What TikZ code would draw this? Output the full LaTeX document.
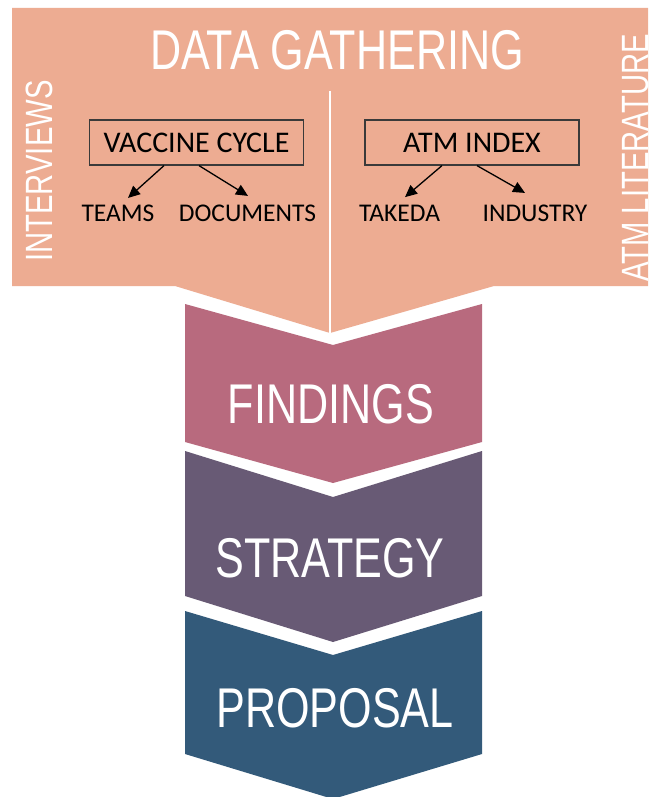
\documentclass[tikz,border=0pt]{standalone}
\usepackage{fontspec}
\setmainfont{Carlito}
\newfontfamily\narrowfont[FakeStretch=0.77]{Liberation Sans}
\usetikzlibrary{arrows.meta,calc}
\definecolor{peach}{HTML}{EDAC92}
\definecolor{rose}{HTML}{B86A7E}
\definecolor{plum}{HTML}{685A75}
\definecolor{navy}{HTML}{335A7A}
\definecolor{boxline}{HTML}{3A3A3A}
\begin{document}
\begin{tikzpicture}[x=1pt,y=-1pt,
  bigtext/.style={text=white,font=\narrowfont\fontsize{56}{60}\selectfont,inner sep=0pt,anchor=base},
  sidetext/.style={text=white,font=\narrowfont\fontsize{38}{42}\selectfont,inner sep=0pt,rotate=90},
  labelbox/.style={draw=boxline,line width=1.2pt,minimum width=214pt,minimum height=45pt,inner sep=0pt,font=\fontsize{30}{34}\selectfont},
  leaf/.style={inner sep=0pt,font=\fontsize{25.5}{30}\selectfont},
  arr/.style={line width=1.3pt,-{Triangle[length=12pt,width=11pt]}}]
\useasboundingbox (0,0) rectangle (648,797);
\fill[white] (0,0) rectangle (648,797);
\clip (0,0) rectangle (648,797);
% top block
\fill[peach] (12,8) -- (660,8) -- (660,286) -- (494,286) -- (330,333) -- (175,286) -- (12,286) -- cycle;
\draw[white,line width=2pt] (330,91) -- (330,333);
% chevrons
\fill[rose] (185,304) -- (333,345) -- (482,304) -- (482,442) -- (333,483) -- (185,442) -- cycle;
\fill[plum] (185,451) -- (333,497) -- (482,451) -- (482,596) -- (333,642) -- (185,596) -- cycle;
\fill[navy] (185,611) -- (333,655) -- (482,611) -- (482,754) -- (333,799) -- (185,754) -- cycle;
% texts
\node[bigtext] (dg) at (337,70) {DATA GATHERING};
\node[bigtext] (fi) at (331,423) {FINDINGS};
\node[bigtext] (st) at (330,577) {STRATEGY};
\node[bigtext] (pr) at (335,727) {PROPOSAL};
\node[sidetext] (iv) at (39,171) {INTERVIEWS};
\node[sidetext] (al) at (636,158) {ATM LITERATURE};
% boxes
\node[labelbox] (vc) at (196.5,142.5) {VACCINE CYCLE};
\node[labelbox] (ai) at (472,142.5) {ATM INDEX};
\node[leaf] (te) at (118,213.5) {TEAMS};
\node[leaf] (do) at (247.5,213.5) {DOCUMENTS};
\node[leaf] (ta) at (399.5,213.5) {TAKEDA};
\node[leaf] (in) at (535,213.5) {INDUSTRY};
\draw[arr] ([xshift=-32.5pt]vc.south) -- ([xshift=10pt,yshift=7pt]te.north);
\draw[arr] ([xshift=2.5pt]vc.south) -- ([xshift=0.5pt,yshift=9pt]do.north);
\draw[arr] ([xshift=-30pt]ai.south) -- ([xshift=5.5pt,yshift=8pt]ta.north);
\draw[arr] ([xshift=5pt]ai.south) -- ([xshift=-10pt,yshift=12pt]in.north);
\end{tikzpicture}
\end{document}
